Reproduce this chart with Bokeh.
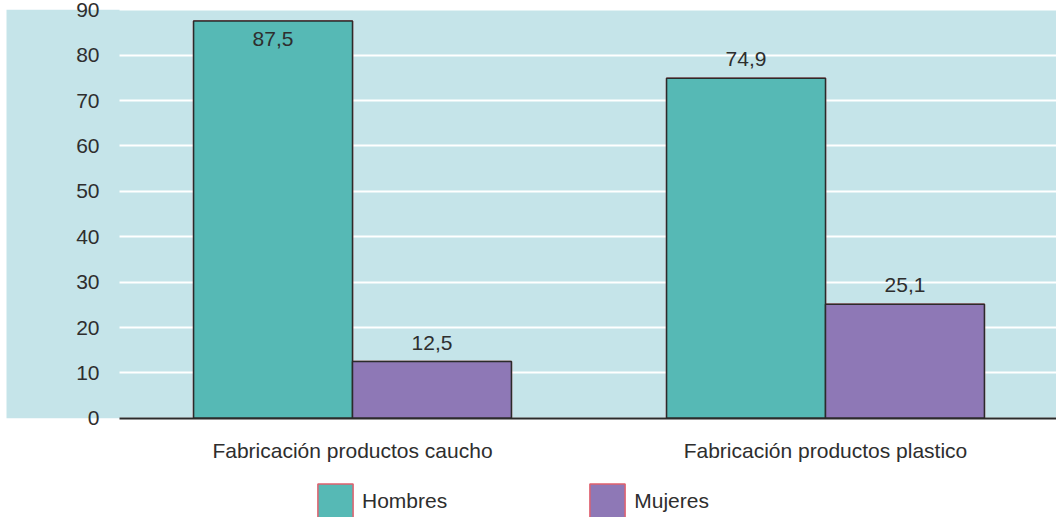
from bokeh.plotting import figure
from bokeh.models import (ColumnDataSource, LinearAxis, FixedTicker, Range1d,
                          BoxAnnotation, Legend, LegendItem, Grid)
from bokeh.core.properties import value
from bokeh.embed import file_html
from bokeh.resources import INLINE

# ---- data ----
categories = ["Fabricación productos caucho", "Fabricación productos plastico"]
series_names = ["Hombres", "Mujeres"]
hombres = [87.5, 74.9]
mujeres = [12.5, 25.1]
y_ticks = [0, 10, 20, 30, 40, 50, 60, 70, 80, 90]

# ---- styles ----
TEAL = "#56b9b5"
PURPLE = "#8e78b6"
BG = "#c5e4e9"
OUTLINE = "#2b2b2b"
LEG_OUTLINE = "#e0606e"
TEXT = "#2e2e2e"
FONT = "Liberation Sans"
FS = "21px"

cat_pos = [i + 1 for i in range(len(categories))]
bar_w = 0.336
x_start, x_end = 0.2558, 2.4884
y_start, y_end = -21.85, 92.03
y_max = y_ticks[-1]
panel_left = 0.5074   # where the value axis sits

p = figure(width=1056, height=517, output_backend="svg", toolbar_location=None,
           x_range=Range1d(x_start, x_end), y_range=Range1d(y_start, y_end),
           x_axis_location=None, y_axis_location=None,
           min_border=0, min_border_left=0, min_border_right=0,
           min_border_top=0, min_border_bottom=0)
p.outline_line_color = None
p.background_fill_color = "white"
p.border_fill_color = "white"
p.xgrid.visible = False
p.ygrid.visible = False

# blue plotting panel
bg = BoxAnnotation(left=0.2685, bottom=0, top=y_max, fill_color=BG, fill_alpha=1.0,
                   line_color=None, level="image")
p.add_layout(bg)

# gridlines
grid = Grid(dimension=1, ticker=FixedTicker(ticks=y_ticks), grid_line_color="white",
            grid_line_width=2, cross_bounds=(panel_left, x_end), level="underlay")
p.add_layout(grid, "center")

# bars
src_h = ColumnDataSource(dict(x=[c - bar_w / 2 for c in cat_pos], top=hombres,
                              lab=[f"{v:.1f}".replace(".", ",") for v in hombres]))
src_m = ColumnDataSource(dict(x=[c + bar_w / 2 for c in cat_pos], top=mujeres,
                              lab=[f"{v:.1f}".replace(".", ",") for v in mujeres]))

# legend proxies (same geometry, hidden underneath the real bars)
lh = p.vbar(x="x", top="top", bottom=0, width=bar_w, source=src_h,
            fill_color=TEAL, line_color=LEG_OUTLINE, line_width=1.5)
lm = p.vbar(x="x", top="top", bottom=0, width=bar_w, source=src_m,
            fill_color=PURPLE, line_color=LEG_OUTLINE, line_width=1.5)

p.vbar(x="x", top="top", bottom=0, width=bar_w, source=src_h,
       fill_color=TEAL, line_color=OUTLINE, line_width=1.5)
p.vbar(x="x", top="top", bottom=0, width=bar_w, source=src_m,
       fill_color=PURPLE, line_color=OUTLINE, line_width=1.5)

# value labels
for src, vals in ((src_h, hombres), (src_m, mujeres)):
    src.data["yoff"] = [18 if v + 6 > y_max else -19 for v in vals]
    p.text(x="x", y="top", text="lab", source=src, y_offset="yoff",
           text_align="center", text_baseline="alphabetic",
           text_font=value(FONT), text_font_size=FS, text_color=TEXT)

# y axis drawn inside the blue panel
yaxis = LinearAxis(fixed_location=panel_left, ticker=FixedTicker(ticks=y_ticks),
                   bounds=(0, y_max))
yaxis.axis_line_color = None
yaxis.major_tick_line_color = None
yaxis.minor_tick_line_color = None
yaxis.major_tick_out = 0
yaxis.major_label_standoff = 20
yaxis.major_label_text_font = FONT
yaxis.major_label_text_font_size = FS
yaxis.major_label_text_color = TEXT
p.add_layout(yaxis, "left")

# x axis at zero
xaxis = LinearAxis(fixed_location=0, ticker=FixedTicker(ticks=cat_pos),
                   bounds=(panel_left, x_end))
xaxis.major_label_overrides = {c: name for c, name in zip(cat_pos, categories)}
xaxis.axis_line_color = OUTLINE
xaxis.axis_line_width = 2
xaxis.major_tick_line_color = None
xaxis.minor_tick_line_color = None
xaxis.major_tick_out = 0
xaxis.major_tick_in = 0
xaxis.major_label_standoff = 21
xaxis.major_label_text_font = FONT
xaxis.major_label_text_font_size = FS
xaxis.major_label_text_color = TEXT
p.add_layout(xaxis, "below")

legend = Legend(items=[LegendItem(label=series_names[0], renderers=[lh]),
                       LegendItem(label=series_names[1], renderers=[lm])],
                orientation="horizontal", location=(313, -6),
                glyph_width=44, glyph_height=44, label_standoff=5,
                label_width=85, spacing=138, padding=0, margin=0,
                border_line_color=None, background_fill_alpha=0,
                label_text_font=FONT, label_text_font_size=FS,
                label_text_color=TEXT)
p.add_layout(legend, "center")

open("out.html", "w").write(file_html(p, INLINE))
